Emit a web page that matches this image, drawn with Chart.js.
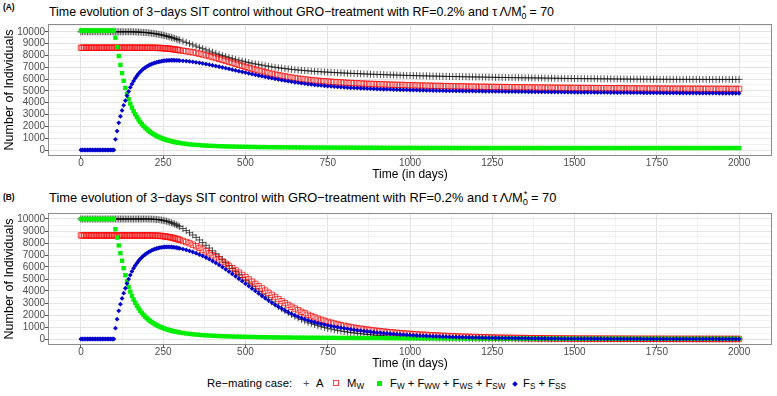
<!DOCTYPE html>
<html>
<head>
<meta charset="utf-8">
<script src="https://cdn.jsdelivr.net/npm/chart.js@4.4.1/dist/chart.umd.min.js"></script>
<style>
  body { margin: 0; background: #fff; width: 777px; height: 396px; position: relative; overflow: hidden;
         font-family: "Liberation Sans", Arial, sans-serif; color: #000; }
  canvas { position: absolute; left: 0; }
  .tag { position: absolute; left: 3px; font-size: 8.4px; font-weight: bold; line-height: 10px; }
  .ttl { position: absolute; left: 49px; line-height: 14px; white-space: nowrap; }
  .lg { position: absolute; top: 376px; font-size: 11.3px; line-height: 14px; white-space: nowrap; }
  .sym { position: absolute; box-sizing: border-box; }
  sub { font-size: 0.72em; vertical-align: -0.3em; line-height: 0; }
  sup { font-size: 0.72em; vertical-align: 0.55em; line-height: 0; }
</style>
</head>
<body>
<div class="tag" style="top:1.6px">(A)</div>
<div class="ttl" style="top:4.6px;font-size:12.4px">Time evolution of 3−days SIT control without GRO−treatment with RF=0.2% and τ&#8201;Λ/M<sub>0</sub><sup style="margin-left:-0.45em">*</sup> = 70</div>
<canvas id="panelA" width="777" height="166" style="top:18px"></canvas>

<div class="tag" style="top:192px">(B)</div>
<div class="ttl" style="top:191.1px;font-size:12.9px">Time evolution of 3−days SIT control with GRO−treatment with RF=0.2% and τ&#8201;Λ/M<sub>0</sub><sup style="margin-left:-0.45em">*</sup> = 70</div>
<canvas id="panelB" width="777" height="166" style="top:207px"></canvas>

<div class="lg" style="left:207px">Re−mating case:</div>
<div class="lg" style="left:303px;color:#555">+</div>
<div class="lg" style="left:316px">A</div>
<span class="sym" style="left:333px;top:380px;width:6px;height:6px;border:1px solid rgba(255,0,0,0.75)"></span>
<div class="lg" style="left:347px">M<sub>W</sub></div>
<span class="sym" style="left:376.5px;top:381px;width:5px;height:5px;background:#00ee00"></span>
<div class="lg" style="left:390px">F<sub>W</sub> + F<sub>WW</sub> + F<sub>WS</sub> + F<sub>SW</sub></div>
<span class="sym" style="left:513px;top:381.5px;width:4px;height:4px;background:#0000cd;transform:rotate(45deg)"></span>
<div class="lg" style="left:523px">F<sub>S</sub> + F<sub>SS</sub></div>

<script>
// time points (days)
const days = [
  0,5,10,15,20,25,30,35,40,45,50,55,60,65,70,75,80,85,90,95,100,
  105,110,115,120,125,130,135,140,145,150,155,160,165,170,175,180,185,190,195,200,
  205,210,215,220,225,230,235,240,245,250,255,260,265,270,275,280,285,290,295,300,
  310,320,330,340,350,360,370,380,390,400,410,420,430,440,450,460,470,480,490,500,
  510,520,530,540,550,560,570,580,590,600,610,620,630,640,650,660,670,680,690,700,
  710,720,730,740,750,760,770,780,790,800,810,820,830,840,850,860,870,880,890,900,
  910,920,930,940,950,960,970,980,990,1000,1010,1020,1030,1040,1050,1060,1070,1080,1090,1100,
  1110,1120,1130,1140,1150,1160,1170,1180,1190,1200,1210,1220,1230,1240,1250,1260,1270,1280,1290,1300,
  1310,1320,1330,1340,1350,1360,1370,1380,1390,1400,1410,1420,1430,1440,1450,1460,1470,1480,1490,1500,
  1510,1520,1530,1540,1550,1560,1570,1580,1590,1600,1610,1620,1630,1640,1650,1660,1670,1680,1690,1700,
  1710,1720,1730,1740,1750,1760,1770,1780,1790,1800,1810,1820,1830,1840,1850,1860,1870,1880,1890,1900,
  1910,1920,1930,1940,1950,1960,1970,1980,1990,2000
];

// (A) without GRO-treatment
const aTotalA = [
  10000,10000,10000,10000,10000,10000,10000,10000,10000,10000,10000,10000,10000,10000,10000,10000,10000,10000,10000,10000,10000,
  10000,10000,10000,10000,10000,10000,10000,10000,10000,10000,9997,9993,9988,9982,9975,9967,9958,9948,9937,9925,
  9911,9896,9879,9860,9839,9816,9791,9764,9735,9704,9671,9636,9599,9560,9519,9476,9432,9387,9341,9295,
  9200,9100,8995,8890,8785,8680,8575,8470,8370,8270,8175,8080,7990,7905,7820,7740,7665,7590,7520,7455,
  7395,7335,7280,7225,7175,7125,7080,7035,6995,6955,6920,6885,6850,6820,6790,6765,6740,6715,6695,6675,
  6655,6635,6615,6600,6585,6570,6555,6540,6525,6510,6497,6484,6471,6459,6447,6435,6424,6413,6402,6392,
  6382,6372,6362,6353,6344,6335,6326,6318,6310,6302,6294,6287,6280,6273,6266,6259,6252,6245,6239,6233,
  6227,6221,6215,6209,6203,6197,6191,6185,6180,6175,6170,6165,6160,6155,6150,6145,6140,6135,6130,6126,
  6122,6118,6114,6110,6106,6102,6098,6094,6090,6086,6082,6078,6074,6070,6066,6062,6058,6054,6050,6046,
  6043,6040,6037,6034,6031,6028,6025,6022,6019,6016,6013,6010,6007,6004,6001,5999,5997,5995,5993,5991,
  5989,5987,5985,5984,5983,5982,5981,5980,5979,5978,5977,5976,5976,5975,5975,5974,5974,5973,5973,5972,
  5972,5971,5971,5970,5970,5970,5970,5970,5970,5970
];
const mwA = [
  8650,8650,8650,8650,8650,8650,8650,8650,8650,8650,8650,8650,8650,8650,8650,8650,8650,8650,8650,8650,8650,
  8650,8650,8650,8650,8650,8650,8650,8650,8650,8650,8650,8650,8650,8650,8650,8650,8650,8650,8650,8650,
  8650,8649,8647,8645,8642,8638,8633,8627,8620,8612,8602,8591,8578,8563,8546,8527,8506,8483,8458,8431,
  8395,8355,8310,8260,8205,8145,8080,8010,7937,7862,7784,7704,7622,7539,7455,7370,7285,7200,7116,7033,
  6952,6873,6796,6721,6648,6578,6511,6447,6386,6328,6273,6221,6172,6126,6083,6043,6006,5972,5940,5910,
  5882,5856,5832,5810,5790,5770,5751,5733,5716,5700,5684,5669,5655,5641,5628,5615,5603,5591,5580,5569,
  5558,5548,5538,5529,5520,5511,5502,5494,5486,5478,5470,5463,5456,5449,5442,5435,5429,5423,5417,5411,
  5405,5399,5393,5388,5383,5378,5373,5368,5363,5358,5353,5349,5345,5341,5337,5333,5329,5325,5321,5317,
  5313,5309,5305,5301,5297,5294,5291,5288,5285,5282,5279,5276,5273,5270,5267,5264,5261,5258,5255,5252,
  5249,5246,5243,5240,5237,5234,5231,5228,5226,5224,5222,5220,5218,5216,5214,5212,5210,5208,5206,5204,
  5202,5200,5198,5196,5194,5192,5190,5189,5188,5187,5186,5185,5184,5183,5182,5181,5180,5179,5178,5177,
  5176,5175,5174,5173,5172,5171,5171,5170,5170,5170
];
const fwA = [
  10100,10100,10100,10100,10100,10100,10100,10100,10100,10100,10100,10100,10100,10100,10100,10100,10100,10100,10100,10100,10100,
  9500,8700,7950,7200,6500,5850,5250,4750,4300,3920,3580,3280,3020,2780,2570,2380,2200,2040,1900,1770,
  1650,1540,1440,1350,1270,1190,1120,1060,1000,950,900,855,815,775,740,705,675,645,620,595,
  550,515,480,455,430,410,390,375,360,345,335,325,315,305,298,290,284,278,272,267,
  262,258,254,250,246,243,240,237,234,231,228,226,224,222,220,218,216,214,212,210,
  208,207,206,205,204,203,202,201,200,199,198,197,196,195,194,193,192,191,190,189,
  188,187,186,185,184,183,182,181,180,180,179,179,178,178,177,177,176,176,175,175,
  175,174,174,174,173,173,173,172,172,172,172,172,172,171,171,171,171,171,171,171,
  171,171,171,171,171,171,171,171,171,171,170,170,170,170,170,170,170,170,170,170,
  170,170,170,170,170,170,170,170,170,170,170,170,170,170,170,170,170,170,170,170,
  170,170,170,170,170,170,170,170,170,170,169,169,169,169,169,169,169,169,169,169,
  169,169,169,169,169,169,169,169,169,169
];
const fsA = [
  0,0,0,0,0,0,0,0,0,0,0,0,0,0,0,0,0,0,0,0,0,
  900,1600,2300,2850,3350,3780,4180,4580,4950,5300,5580,5830,6060,6260,6440,6600,6740,6860,6970,7060,
  7140,7210,7270,7320,7370,7410,7450,7480,7510,7535,7555,7570,7580,7587,7590,7590,7587,7582,7575,7566,
  7545,7520,7490,7455,7415,7370,7322,7270,7216,7160,7102,7043,6983,6922,6860,6797,6734,6671,6608,6545,
  6483,6421,6360,6300,6241,6183,6127,6072,6018,5966,5916,5867,5820,5775,5732,5691,5652,5615,5580,5547,
  5516,5487,5459,5433,5408,5384,5362,5341,5321,5302,5284,5267,5251,5236,5222,5208,5195,5183,5171,5160,
  5149,5139,5129,5120,5111,5103,5095,5087,5080,5073,5066,5060,5054,5048,5042,5037,5032,5027,5022,5017,
  5012,5008,5004,5000,4996,4992,4988,4984,4980,4976,4973,4970,4967,4964,4961,4958,4955,4952,4949,4946,
  4943,4940,4937,4934,4931,4928,4925,4922,4919,4916,4913,4910,4907,4904,4901,4898,4895,4892,4889,4886,
  4884,4882,4880,4878,4876,4874,4872,4870,4868,4866,4864,4862,4860,4858,4856,4854,4852,4850,4848,4846,
  4844,4842,4840,4838,4836,4834,4832,4830,4828,4826,4824,4822,4820,4818,4816,4814,4812,4810,4808,4806,
  4805,4804,4803,4802,4801,4800,4800,4800,4800,4800
];

// (B) with GRO-treatment
const aTotalB = [
  10000,10000,10000,10000,10000,10000,10000,10000,10000,10000,10000,10000,10000,10000,10000,10000,10000,10000,10000,10000,10000,
  10000,10000,10000,10000,10000,10000,10000,10000,10000,10000,10000,10000,10000,10000,10000,10000,10000,10000,10000,10000,
  9998,9995,9990,9983,9974,9962,9947,9929,9907,9881,9851,9817,9778,9734,9685,9631,9572,9508,9439,9365,
  9205,9035,8855,8665,8465,8255,8035,7810,7580,7345,7105,6862,6617,6370,6122,5874,5626,5379,5134,4891,
  4651,4414,4181,3953,3730,3513,3302,3098,2901,2712,2531,2358,2194,2039,1893,1756,1628,1509,1399,1297,
  1203,1116,1036,962,894,831,773,719,669,623,580,540,503,469,437,407,379,353,329,307,
  286,267,249,232,216,201,187,174,162,151,141,131,122,114,106,99,92,86,80,75,
  70,65,61,57,53,49,46,43,40,37,35,33,31,29,27,25,23,22,21,20,
  19,18,17,16,15,14,13,12,11,11,10,10,9,9,8,8,7,7,6,6,
  6,6,5,5,5,5,4,4,4,4,4,3,3,3,3,3,3,2,2,2,
  2,2,2,2,2,2,1,1,1,1,1,1,1,1,1,1,1,1,1,1,
  0,0,0,0,0,0,0,0,0,0
];
const mwB = [
  8630,8630,8630,8630,8630,8630,8630,8630,8630,8630,8630,8630,8630,8630,8630,8630,8630,8630,8630,8630,8630,
  8630,8630,8630,8630,8630,8630,8630,8630,8630,8630,8630,8630,8630,8630,8630,8630,8630,8630,8630,8630,
  8630,8629,8627,8624,8620,8614,8606,8596,8584,8570,8553,8533,8510,8484,8455,8423,8388,8350,8309,8265,
  8175,8080,7975,7860,7735,7600,7455,7300,7140,6975,6805,6630,6452,6272,6090,5906,5720,5533,5345,5157,
  4969,4781,4593,4406,4220,4036,3854,3675,3499,3327,3159,2996,2838,2686,2540,2400,2266,2139,2018,1904,
  1797,1697,1603,1515,1433,1357,1286,1220,1158,1100,1046,995,947,902,860,820,782,746,712,680,
  649,620,592,565,540,516,493,471,450,430,410,391,373,356,340,324,309,295,281,268,
  255,243,231,220,209,199,189,180,171,163,155,147,140,133,126,120,114,108,103,98,
  93,88,84,80,76,72,68,65,62,59,56,53,50,48,46,44,42,40,38,36,
  34,33,32,31,30,29,28,27,26,25,24,23,22,21,20,19,18,17,16,15,
  14,14,13,13,12,12,11,11,10,10,9,9,8,8,7,7,6,6,6,5,
  5,5,4,4,4,3,3,3,3,3
];
const fwB = [
  10000,10000,10000,10000,10000,10000,10000,10000,10000,10000,10000,10000,10000,10000,10000,10000,10000,10000,10000,10000,10000,
  9150,8450,7800,7150,6520,5900,5320,4800,4350,3950,3600,3290,3020,2780,2560,2360,2180,2020,1870,1740,
  1620,1510,1410,1320,1235,1160,1090,1025,965,910,860,815,770,730,695,660,630,600,572,546,
  500,460,425,395,368,345,323,304,287,272,258,246,235,225,216,208,200,193,186,180,
  174,168,163,158,153,149,145,141,137,133,130,127,124,121,118,115,112,110,108,106,
  104,102,100,98,96,94,92,90,88,86,85,84,83,82,81,80,79,78,77,76,
  75,74,73,72,71,70,69,68,67,66,65,64,63,62,61,60,59,58,57,56,
  55,54,53,52,51,50,49,48,47,46,45,44,43,42,41,40,39,38,37,36,
  35,34,33,32,31,30,30,29,29,28,28,27,27,26,26,25,25,24,24,23,
  23,22,22,21,21,20,20,20,19,19,19,18,18,18,18,17,17,17,17,17,
  16,16,16,16,16,16,15,15,15,15,15,15,15,15,15,15,15,15,15,15,
  15,15,15,15,15,15,15,15,15,15
];
const fsB = [
  0,0,0,0,0,0,0,0,0,0,0,0,0,0,0,0,0,0,0,0,0,
  900,1650,2350,2900,3380,3820,4230,4620,4990,5330,5630,5890,6120,6320,6500,6660,6800,6930,7040,7140,
  7230,7310,7380,7440,7490,7540,7580,7610,7635,7655,7668,7675,7677,7674,7666,7653,7635,7612,7585,7553,
  7490,7420,7340,7250,7150,7040,6920,6790,6650,6500,6340,6170,5990,5805,5615,5420,5222,5021,4818,4614,
  4410,4206,4003,3802,3604,3410,3221,3038,2862,2693,2532,2379,2235,2100,1974,1857,1749,1649,1557,1472,
  1394,1322,1255,1193,1135,1080,1028,979,932,887,844,803,764,727,692,658,626,595,566,538,
  511,486,462,439,417,396,376,357,339,322,306,290,275,261,248,235,223,212,201,191,
  181,172,163,155,147,140,133,126,120,114,108,103,98,93,88,84,80,76,72,68,
  65,62,59,56,53,50,48,46,44,42,40,38,36,34,32,31,30,29,28,27,
  26,25,24,23,22,21,20,19,18,17,16,15,14,14,13,13,12,12,11,11,
  10,10,9,9,8,8,7,7,7,6,6,6,5,5,5,4,4,4,4,3,
  3,3,3,2,2,2,2,2,2,2
];

// labelled ticks and grid positions (major + minor)
const xTicks = [0, 250, 500, 750, 1000, 1250, 1500, 1750, 2000];
const xGrid = [0, 125, 250, 375, 500, 625, 750, 875, 1000, 1125, 1250, 1375, 1500, 1625, 1750, 1875, 2000];
const yTicks = [0, 1000, 2000, 3000, 4000, 5000, 6000, 7000, 8000, 9000, 10000];
const yGrid = [0, 500, 1000, 1500, 2000, 2500, 3000, 3500, 4000, 4500, 5000, 5500,
               6000, 6500, 7000, 7500, 8000, 8500, 9000, 9500, 10000, 10500];

Chart.defaults.font.family = '"Liberation Sans", Arial, sans-serif';

const frame = {
  id: 'frame',
  afterDraw(chart) {
    const a = chart.chartArea, c = chart.ctx;
    c.save();
    c.strokeStyle = '#8c8c8c';
    c.lineWidth = 1;
    c.strokeRect(a.left + 0.5, a.top + 0.5, a.right - a.left - 1, a.bottom - a.top - 1);
    c.restore();
  }
};

function pts(ys) {
  return days.map((d, i) => ({ x: d, y: ys[i] }));
}

function makePanel(id, a, mw, fw, fs, yMin, yMax) {
  new Chart(document.getElementById(id), {
    type: 'scatter',
    data: {
      datasets: [
        { label: 'A', data: pts(a), order: 3, pointStyle: 'cross', pointRadius: 3.5,
          borderColor: 'rgba(0,0,0,0.65)', borderWidth: 1 },
        { label: 'M_W', data: pts(mw), order: 2, pointStyle: 'rect', pointRadius: 3.8,
          borderColor: 'rgba(255,0,0,0.75)', backgroundColor: 'rgba(255,255,255,0)', borderWidth: 1 },
        { label: 'F_W', data: pts(fw), order: 1, pointStyle: 'rect', pointRadius: 3.1,
          backgroundColor: '#00ee00', borderWidth: 0 },
        { label: 'F_S', data: pts(fs), order: 0, pointStyle: 'rectRot', pointRadius: 2.4,
          backgroundColor: '#0000cd', borderWidth: 0 }
      ]
    },
    options: {
      responsive: false,
      animation: false,
      events: [],
      layout: { padding: { top: 5, right: 2, left: 0, bottom: 0 } },
      plugins: { legend: { display: false }, tooltip: { enabled: false } },
      scales: {
        x: {
          type: 'linear', min: -100, max: 2100,
          afterBuildTicks: (s) => { s.ticks = xGrid.map((v) => ({ value: v })); },
          afterFit: (s) => { s.height = 28; },
          border: { display: false },
          grid: {
            tickLength: 3,
            color: (c) => xTicks.includes(c.tick.value) ? '#e4e4e4' : '#f2f2f2',
            tickColor: (c) => xTicks.includes(c.tick.value) ? '#555' : 'rgba(0,0,0,0)'
          },
          ticks: {
            autoSkip: false, maxRotation: 0, padding: -2,
            color: '#4d4d4d', font: { size: 10 },
            callback: (v) => xTicks.includes(v) ? String(v) : ''
          },
          title: { display: true, text: 'Time (in days)', color: '#000',
                   font: { size: 12 }, padding: { top: 0, bottom: 2 } }
        },
        y: {
          min: yMin, max: yMax,
          afterBuildTicks: (s) => { s.ticks = yGrid.map((v) => ({ value: v })); },
          afterFit: (s) => { s.width = 48; },
          border: { display: false },
          grid: {
            tickLength: 3,
            color: (c) => yTicks.includes(c.tick.value) ? '#e4e4e4' : '#f2f2f2',
            tickColor: (c) => yTicks.includes(c.tick.value) ? '#555' : 'rgba(0,0,0,0)'
          },
          ticks: {
            autoSkip: false, padding: 0,
            color: '#4d4d4d', font: { size: 10 },
            callback: (v) => yTicks.includes(v) ? String(v) : ''
          },
          title: { display: true, text: 'Number of Individuals', color: '#000',
                   font: { size: 12.5 }, padding: { top: 2, bottom: 0 } }
        }
      }
    },
    plugins: [frame]
  });
}

makePanel('panelA', aTotalA, mwA, fwA, fsA, -507, 10657);
makePanel('panelB', aTotalB, mwB, fwB, fsB, -500, 10500);
</script>
</body>
</html>
